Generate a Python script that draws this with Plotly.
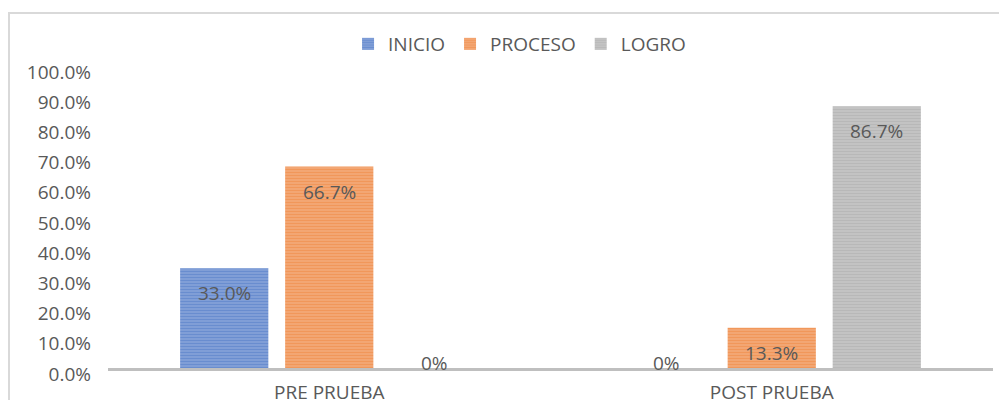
import plotly.graph_objects as go

categories = ["PRE PRUEBA", "POST PRUEBA"]
series_names = ["INICIO", "PROCESO", "LOGRO"]
inicio = [33.0, 0.0]
proceso = [66.7, 13.3]
logro = [0.0, 86.7]
label_text_inicio = ["33.0%", "0%"]
label_text_proceso = ["66.7%", "13.3%"]
label_text_logro = ["0%", "86.7%"]
y_ticks = [0, 10, 20, 30, 40, 50, 60, 70, 80, 90, 100]
y_tick_labels = ["0.0%", "10.0%", "20.0%", "30.0%", "40.0%", "50.0%",
                 "60.0%", "70.0%", "80.0%", "90.0%", "100.0%"]

values = [inicio, proceso, logro]
labels = [label_text_inicio, label_text_proceso, label_text_logro]
fg = ["#4472C4", "#ED7D31", "#A5A5A5"]
bg = ["#8FA9DB", "#F4B083", "#CACACA"]

FONT = "Open Sans"
TXT = "#595959"
FS = 19

L, R, T, B = 100, 22, 58, 39.5
PW, PH = 1007 - L - R, 400 - T - B

fig = go.Figure()
for i, name in enumerate(series_names):
    fig.add_trace(go.Bar(
        name=name, x=categories, y=values[i],
        marker=dict(color=bg[i], line=dict(width=0),
                    pattern=dict(shape="-", fgcolor=fg[i], bgcolor=bg[i],
                                 size=3, solidity=0.6, fillmode="overlay")),
        hoverinfo="skip",
    ))

bargap = 0.288
bargroupgap = 0.16
slot = (1 - bargap) / 3
for i in range(3):
    for j, c in enumerate(categories):
        v = values[i][j]
        xpos = j + (i - 1) * slot
        fig.add_annotation(
            x=xpos, y=v, xref="x", yref="y", text=labels[i][j],
            showarrow=False, yanchor="middle",
            yshift=-25 if v > 0 else 5,
            font=dict(family=FONT, size=FS, color=TXT),
        )

# outer chart border (light gray)
fig.add_shape(type="rect", xref="paper", yref="paper",
              x0=(1 - L) / PW, x1=(1100 - L) / PW,
              y0=-0.4, y1=(400 - B - 5) / PH,
              line=dict(color="#D9D9D9", width=2), fillcolor="rgba(0,0,0,0)",
              layer="below")

fig.update_layout(
    width=1007, height=400,
    margin=dict(l=L, r=R, t=T, b=B, autoexpand=False),
    paper_bgcolor="white", plot_bgcolor="white",
    barmode="group", bargap=bargap, bargroupgap=bargroupgap,
    font=dict(family=FONT, size=FS, color=TXT),
    showlegend=True,
    legend=dict(orientation="h", xref="container", yref="container",
                x=0.508, xanchor="center", y=1 - 36 / 400, yanchor="middle",
                font=dict(family=FONT, size=FS, color=TXT),
                itemwidth=30, tracegroupgap=0, bgcolor="rgba(0,0,0,0)"),
    xaxis=dict(type="category", showgrid=False, showline=True,
               linecolor="#BFBFBF", linewidth=3, ticks="",
               ticklabelstandoff=5, automargin=False,
               tickfont=dict(family=FONT, size=FS, color=TXT)),
    yaxis=dict(range=[0, 100], tickvals=y_ticks, ticktext=y_tick_labels,
               showgrid=False, zeroline=False, showline=False, ticks="",
               ticklabelstandoff=16, ticklabelshift=6, automargin=False,
               tickfont=dict(family=FONT, size=FS, color=TXT)),
)

fig.write_html("out.html")
